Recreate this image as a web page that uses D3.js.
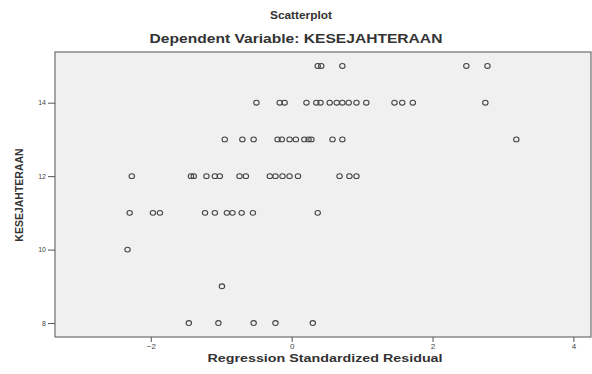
<!DOCTYPE html>
<html>
<head>
<meta charset="utf-8">
<script src="https://cdn.jsdelivr.net/npm/d3@7"></script>
<style>
  html, body { margin: 0; padding: 0; background: #ffffff; }
  svg { display: block; }
</style>
</head>
<body>
<svg id="chart" width="592" height="374"></svg>
<script>
// ---- Data ----
const titleText = "Scatterplot";
const subtitleText = "Dependent Variable: KESEJAHTERAAN";
const xLabel = "Regression Standardized Residual";
const yLabel = "KESEJAHTERAAN";
const xTicks = [-2, 0, 2, 4];
const yTicks = [8, 10, 12, 14];

// Standardized residuals observed at each KESEJAHTERAAN level
const res15 = [0.37, 0.42, 0.72, 2.48, 2.78];
const res14 = [-0.50, -0.17, -0.10, 0.21, 0.35, 0.41, 0.54, 0.64, 0.72, 0.81, 0.92, 1.06, 1.46, 1.57, 1.72, 2.75];
const res13 = [-0.95, -0.70, -0.54, -0.20, -0.14, -0.03, 0.06, 0.18, 0.24, 0.28, 0.58, 0.72, 3.19];
const res12 = [-2.27, -1.43, -1.39, -1.21, -1.09, -1.02, -0.74, -0.65, -0.31, -0.23, -0.13, -0.03, 0.09, 0.68, 0.82, 0.92];
const res11 = [-2.30, -1.97, -1.87, -1.23, -1.09, -0.92, -0.84, -0.71, -0.55, 0.37];
const res10 = [-2.33];
const res9  = [-0.99];
const res8  = [-1.46, -1.04, -0.54, -0.23, 0.30];

const levels = [15, 14, 13, 12, 11, 10, 9, 8];
const residualsByLevel = [res15, res14, res13, res12, res11, res10, res9, res8];

const points = [];
levels.forEach((lv, i) => residualsByLevel[i].forEach(r => points.push({x: r, y: lv})));

// ---- Layout ----
const svg = d3.select("#chart");
const plot = {left: 55, top: 52, right: 591, bottom: 337};

const x = d3.scaleLinear().domain([-3.36, 4.25]).range([plot.left, plot.right]);
const y = d3.scaleLinear().domain([7.62, 15.38]).range([plot.bottom, plot.top]);

const font = "'Liberation Sans', Arial, sans-serif";

// plot background
svg.append("rect")
  .attr("x", plot.left).attr("y", plot.top)
  .attr("width", plot.right - plot.left).attr("height", plot.bottom - plot.top)
  .attr("fill", "#f0f0f0")
  .attr("stroke", "#6e6e6e").attr("stroke-width", 1.2);

// axes
const xAxis = d3.axisBottom(x).tickValues(xTicks).tickSize(5).tickPadding(1).tickFormat(d3.format("d"));
const gx = svg.append("g").attr("transform", `translate(0,${plot.bottom})`).call(xAxis);
gx.select(".domain").remove();
gx.selectAll("line").attr("stroke", "#555");
gx.selectAll("text").attr("font-family", font).attr("font-size", 8).attr("fill", "#444");

const yAxis = d3.axisLeft(y).tickValues(yTicks).tickSize(7).tickPadding(2).tickFormat(d3.format("d"));
const gy = svg.append("g").attr("transform", `translate(${plot.left},0)`).call(yAxis);
gy.select(".domain").remove();
gy.selectAll("line").attr("stroke", "#555");
gy.selectAll("text").attr("font-family", font).attr("font-size", 7).attr("fill", "#444");

// points
svg.append("g").selectAll("ellipse")
  .data(points).join("ellipse")
  .attr("cx", d => x(d.x)).attr("cy", d => y(d.y))
  .attr("rx", 2.7).attr("ry", 2.4)
  .attr("fill", "none")
  .attr("stroke", "#444").attr("stroke-width", 1.1);

// titles
svg.append("text").attr("transform", "translate(301,19) scale(1.08,1)").attr("text-anchor", "middle")
  .attr("font-family", font).attr("font-weight", "bold").attr("font-size", 11).attr("fill", "#333")
  .text(titleText);
svg.append("text").attr("transform", "translate(296,43) scale(1.3,1)").attr("text-anchor", "middle")
  .attr("font-family", font).attr("font-weight", "bold").attr("font-size", 12).attr("fill", "#333")
  .text(subtitleText);

// axis labels
svg.append("text").attr("transform", `translate(325,362) scale(1.3,1)`).attr("text-anchor", "middle")
  .attr("font-family", font).attr("font-weight", "bold").attr("font-size", 11).attr("fill", "#333")
  .text(xLabel);
svg.append("text").attr("transform", "translate(23,195) rotate(-90)").attr("text-anchor", "middle")
  .attr("font-family", font).attr("font-weight", "bold").attr("font-size", 10.5).attr("fill", "#333")
  .text(yLabel);
</script>
</body>
</html>
